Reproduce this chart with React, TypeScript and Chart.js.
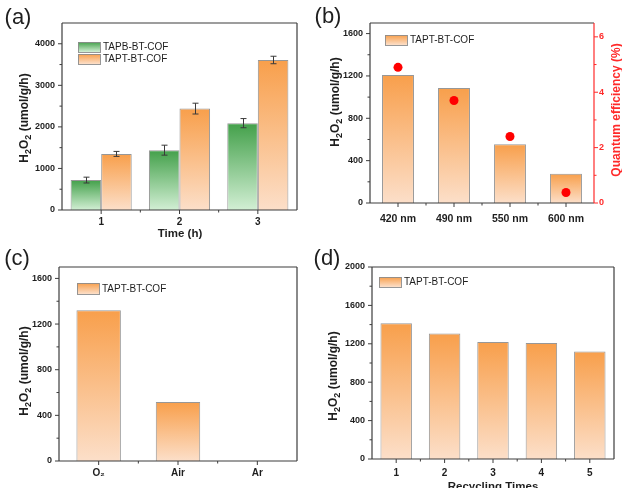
import React, { useEffect, useRef } from 'react';
import { Chart, registerables } from 'chart.js';

Chart.register(...registerables);

const FONT = '"Liberation Sans", Arial, Helvetica, sans-serif';

// ---------- data ----------
const seriesNames = ['TAPB-BT-COF', 'TAPT-BT-COF'];

// (a)
const timeLabels = ['1', '2', '3'];
const tapbByTime = [720, 1440, 2090];
const tapbByTimeErr = [70, 120, 110];
const taptByTime = [1350, 2440, 3610];
const taptByTimeErr = [60, 130, 90];
const timeYTicks = [0, 1000, 2000, 3000, 4000];

// (b)
const wavelengthLabels = ['420 nm', '490 nm', '550 nm', '600 nm'];
const taptByWavelength = [1210, 1085, 555, 276];
const quantumEfficiency = [4.9, 3.7, 2.4, 0.38];
const wavelengthYTicks = [0, 400, 800, 1200, 1600];
const qeTicks = [0, 2, 4, 6];

// (c)
const atmosphereLabels = ['O₂', 'Air', 'Ar'];
const taptByAtmosphere = [1320, 516, 0];
const atmosphereYTicks = [0, 400, 800, 1200, 1600];

// (d)
const cycleLabels = ['1', '2', '3', '4', '5'];
const taptByCycle = [1413, 1306, 1219, 1208, 1119];
const cycleYTicks = [0, 400, 800, 1200, 1600, 2000];

// ---------- styles ----------
const ORANGE = ['#f89f4b', '#fcdfc9'];
const GREEN = ['#43a04a', '#d2efd4'];
const BORDER = 'rgba(140,140,140,0.9)';
const TEXT = '#1e1e1e';
const AXIS = '#3c3c3c';
const RED = '#ff2a2a';

type Seg = { t: string; sub?: boolean };
const H2O2_TITLE: Seg[] = [{ t: 'H' }, { t: '2', sub: true }, { t: 'O' }, { t: '2', sub: true }, { t: ' (umol/g/h)' }];

function gradientFill(colors: string[]) {
  return (c: any) => {
    const chart = c.chart;
    if (!chart.chartArea || c.type !== 'data' || !c.parsed) return colors[0];
    const meta = chart.getDatasetMeta(c.datasetIndex);
    const ys = chart.scales[meta.yAxisID];
    if (!ys) return colors[0];
    const y0 = ys.getPixelForValue(c.parsed.y);
    const y1 = ys.getPixelForValue(0);
    if (!(y1 - y0 > 0.5)) return colors[0];
    const g = chart.ctx.createLinearGradient(0, y0, 0, y1);
    g.addColorStop(0, colors[0]);
    g.addColorStop(1, colors[1]);
    return g;
  };
}

function drawRich(ctx: CanvasRenderingContext2D, segs: Seg[], x: number, y: number, rot: number, size: number, bold: boolean, color: string) {
  ctx.save();
  ctx.translate(x, y);
  ctx.rotate(rot);
  const w = bold ? 'bold ' : '';
  const main = `${w}${size}px ${FONT}`;
  const sub = `${w}${Math.round(size * 0.72)}px ${FONT}`;
  let total = 0;
  for (const s of segs) {
    ctx.font = s.sub ? sub : main;
    total += ctx.measureText(s.t).width;
  }
  let cx = -total / 2;
  ctx.fillStyle = color;
  ctx.textBaseline = 'middle';
  ctx.textAlign = 'left';
  for (const s of segs) {
    ctx.font = s.sub ? sub : main;
    ctx.fillText(s.t, cx, s.sub ? size * 0.3 : 0);
    cx += ctx.measureText(s.t).width;
  }
  ctx.restore();
}

function makeDecor(cfg: any) {
  return {
    id: 'decor',
    afterDatasetsDraw(chart: any) {
      const ctx = chart.ctx;
      (cfg.errorBars || []).forEach(({ dataset, errors }: any) => {
        const meta = chart.getDatasetMeta(dataset);
        const ys = chart.scales[meta.yAxisID];
        const values = chart.data.datasets[dataset].data;
        ctx.save();
        ctx.strokeStyle = '#3a3a3a';
        ctx.lineWidth = 1;
        meta.data.forEach((el: any, i: number) => {
          const x = Math.round(el.x) + 0.5;
          const hi = ys.getPixelForValue(values[i] + errors[i]);
          const lo = ys.getPixelForValue(values[i] - errors[i]);
          ctx.beginPath();
          ctx.moveTo(x, hi); ctx.lineTo(x, lo);
          ctx.moveTo(x - 3, hi); ctx.lineTo(x + 3, hi);
          ctx.moveTo(x - 3, lo); ctx.lineTo(x + 3, lo);
          ctx.stroke();
        });
        ctx.restore();
      });
    },
    afterDraw(chart: any) {
      const ctx: CanvasRenderingContext2D = chart.ctx;
      const { left, right, top, bottom } = chart.chartArea;
      ctx.save();
      const [cl, ct, cr, cb] = cfg.frame;
      const seg = (c: string, x1: number, y1: number, x2: number, y2: number) => {
        ctx.strokeStyle = c; ctx.lineWidth = 1.2;
        ctx.beginPath(); ctx.moveTo(x1, y1); ctx.lineTo(x2, y2); ctx.stroke();
      };
      seg(ct, left, top, right, top);
      seg(cb, left, bottom, right, bottom);
      seg(cl, left, top, left, bottom);
      seg(cr, right, top, right, bottom);

      cfg.axes.forEach((a: any) => {
        const s = chart.scales[a.id];
        const marks: [number, number][] = [];
        if (s.type === 'category') {
          const n = s.ticks.length;
          for (let i = 0; i < n; i++) marks.push([s.getPixelForTick(i), 4]);
          for (let i = 0; i < n - 1; i++) marks.push([(s.getPixelForTick(i) + s.getPixelForTick(i + 1)) / 2, 2.5]);
        } else {
          const vals = s.ticks.map((t: any) => t.value);
          const step = vals[1] - vals[0];
          vals.forEach((v: number) => marks.push([s.getPixelForValue(v), 4]));
          vals.forEach((v: number) => {
            const m = v + step / 2;
            if (m < s.max) marks.push([s.getPixelForValue(m), 2.5]);
          });
        }
        ctx.strokeStyle = a.color || AXIS;
        ctx.lineWidth = 1;
        ctx.beginPath();
        marks.forEach(([p, len]) => {
          if (a.side === 'left') { ctx.moveTo(left, p); ctx.lineTo(left - len, p); }
          else if (a.side === 'right') { ctx.moveTo(right, p); ctx.lineTo(right + len, p); }
          else { ctx.moveTo(p, bottom); ctx.lineTo(p, bottom + len); }
        });
        ctx.stroke();
      });

      const L = cfg.legend;
      if (L) {
        L.items.forEach((it: any, i: number) => {
          const y = L.y + i * L.pitch;
          const g = ctx.createLinearGradient(0, y, 0, y + L.h);
          g.addColorStop(0, it.colors[0]);
          g.addColorStop(1, it.colors[1]);
          ctx.fillStyle = g;
          ctx.fillRect(L.x, y, L.w, L.h);
          ctx.strokeStyle = BORDER; ctx.lineWidth = 1;
          ctx.strokeRect(L.x + 0.5, y + 0.5, L.w, L.h);
          ctx.fillStyle = TEXT;
          ctx.font = `${L.size}px ${FONT}`;
          ctx.textBaseline = 'middle';
          ctx.textAlign = 'left';
          ctx.fillText(it.label, L.x + L.w + 3, y + L.h / 2 + 0.5);
        });
      }

      (cfg.texts || []).forEach((t: any) => {
        drawRich(ctx, t.segs, t.x, t.y, t.rot || 0, t.size, !!t.bold, t.color || TEXT);
      });
      ctx.restore();
    },
  };
}

function xScale(h: number, pad: number, size = 10) {
  return {
    type: 'category',
    offset: true,
    grid: { display: false, drawTicks: false },
    border: { display: false },
    ticks: { font: { family: FONT, size, weight: 'bold' }, color: TEXT, padding: pad, autoSkip: false, maxRotation: 0 },
    afterFit: (s: any) => { s.height = h; },
  };
}

function yScale(min: number, max: number, ticks: number[], width: number, pad: number, position = 'left', color = TEXT) {
  return {
    type: 'linear',
    position,
    min,
    max,
    grid: { display: false, drawTicks: false },
    border: { display: false },
    afterBuildTicks: (s: any) => { s.ticks = ticks.map((v) => ({ value: v })); },
    ticks: {
      font: { family: FONT, size: 9, weight: 'bold' },
      color,
      padding: pad,
      callback: (v: any) => String(v),
    },
    afterFit: (s: any) => { s.width = width; },
  };
}

const common = {
  responsive: false,
  animation: false,
  devicePixelRatio: 1,
  events: [],
};

const noPlugins = { legend: { display: false }, tooltip: { enabled: false } };

function barDs(label: string, data: number[], colors: string[], barPct: number, catPct: number, extra: any = {}) {
  return {
    type: 'bar',
    label,
    data,
    backgroundColor: gradientFill(colors),
    borderColor: BORDER,
    borderWidth: 1,
    barPercentage: barPct,
    categoryPercentage: catPct,
    ...extra,
  };
}

function configA() {
  return {
    type: 'bar',
    data: {
      labels: timeLabels,
      datasets: [
        barDs(seriesNames[0], tapbByTime, GREEN, 1, 0.78),
        barDs(seriesNames[1], taptByTime, ORANGE, 1, 0.78),
      ],
    },
    options: {
      ...common,
      layout: { padding: { top: 23, right: 14, left: 0, bottom: 0 } },
      scales: { x: xScale(34, 6), y: yScale(0, 4500, timeYTicks, 62, 7) },
      plugins: noPlugins,
    },
    plugins: [makeDecor({
      frame: [AXIS, AXIS, AXIS, AXIS],
      axes: [{ id: 'y', side: 'left' }, { id: 'x', side: 'bottom' }],
      errorBars: [{ dataset: 0, errors: tapbByTimeErr }, { dataset: 1, errors: taptByTimeErr }],
      legend: { x: 78, y: 42, w: 22, h: 10, pitch: 12, size: 10, items: [{ label: seriesNames[0], colors: GREEN }, { label: seriesNames[1], colors: ORANGE }] },
      texts: [
        { segs: [{ t: '(a)' }], x: 18, y: 18, size: 22 },
        { segs: H2O2_TITLE, x: 25, y: 118, rot: -Math.PI / 2, size: 12, bold: true },
        { segs: [{ t: 'Time (h)' }], x: 180, y: 234, size: 11.5, bold: true },
      ],
    })],
  };
}

function configB() {
  return {
    type: 'bar',
    data: {
      labels: wavelengthLabels,
      datasets: [
        {
          type: 'line',
          label: 'Quantum efficiency',
          data: quantumEfficiency,
          yAxisID: 'y1',
          showLine: false,
          pointRadius: 4.5,
          pointBackgroundColor: '#ff0000',
          pointBorderWidth: 0,
          order: 0,
        },
        barDs(seriesNames[1], taptByWavelength, ORANGE, 0.57, 1, { yAxisID: 'y', order: 1 }),
      ],
    },
    options: {
      ...common,
      layout: { padding: { top: 23, right: 0, left: 0, bottom: 0 } },
      scales: {
        x: xScale(41, 10, 10.5),
        y: yScale(0, 1700, wavelengthYTicks, 59, 7),
        y1: yScale(0, 6.5, qeTicks, 28, 5, 'right', RED),
      },
      plugins: noPlugins,
    },
    plugins: [makeDecor({
      frame: [AXIS, AXIS, RED, AXIS],
      axes: [{ id: 'y', side: 'left' }, { id: 'x', side: 'bottom' }, { id: 'y1', side: 'right', color: RED }],
      legend: { x: 74, y: 35, w: 22, h: 10, pitch: 12, size: 10, items: [{ label: seriesNames[1], colors: ORANGE }] },
      texts: [
        { segs: [{ t: '(b)' }], x: 17, y: 17, size: 22 },
        { segs: H2O2_TITLE, x: 25, y: 102, rot: -Math.PI / 2, size: 12, bold: true },
        { segs: [{ t: 'Quantum efficiency (%)' }], x: 306, y: 110, rot: -Math.PI / 2, size: 12, bold: true, color: RED },
      ],
    })],
  };
}

function configC() {
  return {
    type: 'bar',
    data: {
      labels: atmosphereLabels,
      datasets: [barDs(seriesNames[1], taptByAtmosphere, ORANGE, 0.56, 1)],
    },
    options: {
      ...common,
      layout: { padding: { top: 23, right: 14, left: 0, bottom: 0 } },
      scales: { x: xScale(27, 6), y: yScale(0, 1700, atmosphereYTicks, 59, 7) },
      plugins: noPlugins,
    },
    plugins: [makeDecor({
      frame: [AXIS, AXIS, AXIS, AXIS],
      axes: [{ id: 'y', side: 'left' }, { id: 'x', side: 'bottom' }],
      legend: { x: 77, y: 39, w: 22, h: 11, pitch: 12, size: 10, items: [{ label: seriesNames[1], colors: ORANGE }] },
      texts: [
        { segs: [{ t: '(c)' }], x: 17, y: 15, size: 22 },
        { segs: H2O2_TITLE, x: 25, y: 127, rot: -Math.PI / 2, size: 12, bold: true },
      ],
    })],
  };
}

function configD() {
  return {
    type: 'bar',
    data: {
      labels: cycleLabels,
      datasets: [barDs(seriesNames[1], taptByCycle, ORANGE, 0.65, 1)],
    },
    options: {
      ...common,
      layout: { padding: { top: 23, right: 8, left: 0, bottom: 0 } },
      scales: { x: xScale(29, 8), y: yScale(0, 2000, cycleYTicks, 61, 7) },
      plugins: noPlugins,
    },
    plugins: [makeDecor({
      frame: [AXIS, AXIS, AXIS, AXIS],
      axes: [{ id: 'y', side: 'left' }, { id: 'x', side: 'bottom' }],
      legend: { x: 68, y: 33, w: 22, h: 10, pitch: 12, size: 10, items: [{ label: seriesNames[1], colors: ORANGE }] },
      texts: [
        { segs: [{ t: '(d)' }], x: 16, y: 15, size: 22 },
        { segs: H2O2_TITLE, x: 23, y: 132, rot: -Math.PI / 2, size: 12, bold: true },
        { segs: [{ t: 'Recycling Times' }], x: 182, y: 243, size: 11.5, bold: true },
      ],
    })],
  };
}

function Panel({ make, left, top }: { make: () => any; left: number; top: number }) {
  const ref = useRef<HTMLCanvasElement>(null);
  useEffect(() => {
    const chart = new Chart(ref.current as HTMLCanvasElement, make());
    return () => chart.destroy();
  }, [make]);
  return (
    <canvas
      ref={ref}
      width={311}
      height={244}
      style={{ position: 'absolute', left, top, width: 311, height: 244 }}
    />
  );
}

export default function App() {
  return (
    <div style={{ position: 'fixed', left: 0, top: 0, width: 622, height: 488, background: '#fff', overflow: 'hidden' }}>
      <Panel make={configA} left={0} top={0} />
      <Panel make={configB} left={311} top={0} />
      <Panel make={configC} left={0} top={244} />
      <Panel make={configD} left={311} top={244} />
    </div>
  );
}
